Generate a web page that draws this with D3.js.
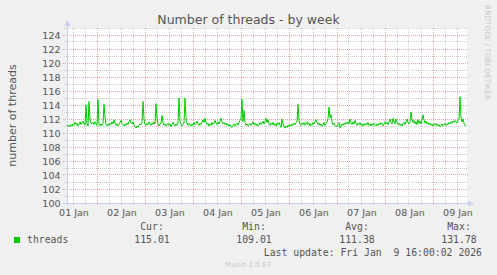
<!DOCTYPE html>
<html>
<head>
<meta charset="utf-8">
<script src="https://cdn.jsdelivr.net/npm/d3@7"></script>
<style>
  html, body { margin: 0; padding: 0; background: #f0f0f0; }
  svg { display: block; }
</style>
</head>
<body>
<div id="chart"></div>
<script>
const startTime = Date.UTC(2026, 0, 1, 9, 0, 0);
const stepMs = 30 * 60 * 1000;
const threads = [
  111.1, 111.0, 111.1, 110.9, 111.2, 111.0, 111.3, 111.1, 111.5, 111.2,
  111.4, 111.0, 111.3, 111.6, 111.2, 111.5, 111.7, 111.3, 111.1, 114.0,
  111.3, 111.0, 114.5, 112.0, 111.4, 111.3, 111.5, 111.2, 111.6, 111.3,
  111.1, 114.8, 111.2, 111.0, 111.3, 111.1, 111.4, 114.1, 112.3, 111.2,
  111.0, 111.3, 111.1, 111.4, 111.2, 111.6, 111.3, 111.9, 111.5, 111.1,
  111.3, 111.0, 111.2, 111.5, 111.8, 111.4, 111.2, 111.0, 111.3, 111.1,
  111.4, 111.2, 111.6, 111.9, 111.5, 111.3, 111.6, 111.2, 110.9, 110.7,
  111.0, 110.8, 111.1, 111.3, 111.2, 111.5, 114.5, 112.0, 111.3, 111.1,
  111.4, 111.2, 111.6, 111.3, 111.1, 111.4, 111.2, 111.6, 111.3, 114.2,
  112.1, 111.2, 111.0, 111.3, 111.4, 112.5, 111.5, 111.1, 111.3, 111.0,
  111.2, 111.4, 111.1, 111.3, 110.9, 111.2, 111.5, 111.2, 111.0, 111.3,
  111.1, 111.4, 115.0, 111.6, 111.2, 111.0, 111.3, 111.4, 115.0, 112.2,
  111.3, 111.1, 111.4, 111.2, 111.0, 111.3, 111.1, 111.5, 111.2, 111.4,
  111.7, 111.3, 111.1, 111.4, 111.2, 111.5, 111.9, 111.5, 112.1, 111.6,
  111.2, 111.4, 111.0, 111.3, 111.1, 111.5, 111.2, 111.4, 111.8, 111.4,
  111.2, 111.6, 111.3, 111.7, 112.1, 111.6, 111.3, 111.5, 111.2, 111.4,
  111.1, 111.3, 111.0, 111.2, 110.9, 110.8, 111.1, 111.3, 111.0, 111.2,
  111.4, 111.1, 111.5, 111.8, 112.0, 114.8, 111.6, 113.2, 111.5, 111.1,
  111.3, 111.0, 111.2, 111.4, 111.1, 111.3, 111.6, 111.2, 111.4, 111.1,
  111.3, 111.0, 111.2, 111.5, 111.2, 111.4, 111.7, 111.3, 111.6, 112.1,
  111.5, 111.9, 111.3, 111.1, 111.4, 111.2, 111.5, 111.1, 111.3, 111.0,
  111.4, 111.2, 111.5, 111.1, 110.8, 112.0, 111.3, 110.9, 110.7, 111.0,
  110.8, 111.1, 110.9, 111.2, 111.0, 111.3, 111.1, 111.4, 111.2, 111.5,
  111.6, 114.1, 111.8, 111.3, 111.1, 111.4, 111.2, 111.5, 111.1, 111.3,
  111.6, 111.2, 111.4, 111.0, 111.3, 111.1, 111.5, 111.3, 111.6, 111.9,
  111.5, 111.2, 111.4, 111.1, 111.3, 111.0, 111.2, 111.5, 111.1, 111.3,
  111.6, 112.0, 113.7, 112.2, 112.6, 111.6, 111.2, 111.4, 111.1, 110.9,
  111.0, 111.3, 111.5, 110.7, 111.0, 111.3, 111.1, 111.4, 111.2, 111.5,
  111.3, 111.6, 111.3, 112.0, 111.5, 111.2, 111.6, 111.3, 111.8, 111.4,
  111.1, 111.4, 111.2, 111.5, 111.1, 111.3, 111.0, 111.3, 111.1, 111.4,
  111.2, 111.5, 111.1, 111.3, 111.0, 111.3, 111.1, 111.4, 111.2, 111.0,
  111.3, 111.1, 111.4, 111.2, 111.5, 111.2, 111.0, 111.3, 111.6, 111.3,
  111.5, 111.2, 111.6, 112.0, 111.5, 111.3, 112.1, 111.6, 111.3, 112.0,
  111.5, 111.2, 111.4, 111.1, 111.3, 111.0, 111.3, 111.5, 111.2, 111.6,
  112.0, 111.5, 111.3, 111.6, 113.0, 112.0, 111.5, 111.8, 111.3, 111.6,
  111.2, 111.9, 111.4, 111.7, 111.3, 111.8, 112.6, 111.9, 111.4, 111.7,
  111.3, 111.5, 111.2, 111.4, 111.1, 111.3, 111.0, 111.2, 111.4, 111.1,
  111.3, 111.0, 111.2, 110.9, 111.1, 111.3, 111.0, 111.2, 111.4, 111.1,
  111.3, 111.2, 111.5, 111.3, 111.6, 111.4, 111.7, 111.5, 111.8, 111.6,
  111.4, 111.7, 112.0, 115.2, 112.2, 111.6, 112.0, 111.4, 111.1, 111.0
];

const yTickValues = [100, 102, 104, 106, 108, 110, 112, 114, 116, 118, 120, 122, 124];
const dayLabels = ['01 Jan', '02 Jan', '03 Jan', '04 Jan', '05 Jan', '06 Jan', '07 Jan', '08 Jan', '09 Jan'];
const legendHeads = ['Cur:', 'Min:', 'Avg:', 'Max:'];
const legendValues = ['115.01', '109.01', '111.38', '131.78'];
const seriesName = 'threads';
const lastUpdate = 'Last update: Fri Jan  9 16:00:02 2026';

const W = 497, H = 275;
const plot = {left: 67, top: 28, width: 400, height: 175};
const sans = 'DejaVu Sans, sans-serif';
const mono = 'DejaVu Sans Mono, monospace';
const fontColor = '#555';
const axisColor = '#c8cff2';
const gridMinor = '#cfcfcf';
const gridMajor = '#e6a3a3';

const svg = d3.select('#chart').append('svg')
    .attr('width', W)
    .attr('height', H);

svg.append('rect').attr('width', W).attr('height', H).attr('fill', '#f0f0f0');

const endTime = startTime + 400 * stepMs;
const x = d3.scaleUtc()
    .domain([startTime, endTime])
    .range([plot.left, plot.left + plot.width]);
const y = d3.scaleLinear()
    .domain([100, 125])
    .range([plot.top + plot.height, plot.top]);

svg.append('rect')
    .attr('x', plot.left).attr('y', plot.top)
    .attr('width', plot.width).attr('height', plot.height)
    .attr('fill', '#fff');

const grid = svg.append('g').attr('shape-rendering', 'crispEdges');
const crisp = v => Math.floor(v) + 0.5;

// minor grid: every unit, every 6 hours
const minorY = d3.range(101, 126, 2);
grid.selectAll('.minY').data(minorY).enter().append('line')
    .attr('x1', plot.left - 3).attr('x2', plot.left + plot.width + 1)
    .attr('y1', d => crisp(y(d))).attr('y2', d => crisp(y(d)))
    .attr('stroke', gridMinor).attr('stroke-dasharray', '1,1');

const sixHours = d3.utcHour.every(6).range(new Date(startTime), new Date(endTime))
    .filter(d => d.getUTCHours() !== 0);
grid.selectAll('.minX').data(sixHours).enter().append('line')
    .attr('x1', d => crisp(x(d))).attr('x2', d => crisp(x(d)))
    .attr('y1', plot.top).attr('y2', plot.top + plot.height + 2)
    .attr('stroke', gridMinor).attr('stroke-dasharray', '1,1');

// major grid: red dotted every 2 units and every midnight
grid.selectAll('.majY').data(yTickValues.filter(d => d > 100)).enter().append('line')
    .attr('x1', plot.left - 4).attr('x2', plot.left + plot.width + 1)
    .attr('y1', d => crisp(y(d))).attr('y2', d => crisp(y(d)))
    .attr('stroke', gridMajor).attr('stroke-dasharray', '1,1');

const midnights = d3.utcDay.range(new Date(startTime), new Date(endTime));
grid.selectAll('.majX').data(midnights).enter().append('line')
    .attr('x1', d => crisp(x(d))).attr('x2', d => crisp(x(d)))
    .attr('y1', plot.top).attr('y2', plot.top + plot.height + 3)
    .attr('stroke', gridMajor).attr('stroke-dasharray', '1,1');

// axes with arrows
const axes = svg.append('g');
axes.append('line')
    .attr('x1', plot.left - 4).attr('x2', plot.left + plot.width + 3)
    .attr('y1', crisp(y(100))).attr('y2', crisp(y(100)))
    .attr('stroke', axisColor).attr('shape-rendering', 'crispEdges');
axes.append('line')
    .attr('x1', plot.left + 0.5).attr('x2', plot.left + 0.5)
    .attr('y1', plot.top + plot.height + 3).attr('y2', plot.top - 4)
    .attr('stroke', axisColor).attr('shape-rendering', 'crispEdges');
const ax = plot.left + plot.width, ay = crisp(y(100));
axes.append('path')
    .attr('d', `M${ax + 1},${ay - 3}L${ax + 7},${ay}L${ax + 1},${ay + 3}Z`)
    .attr('fill', axisColor);
const tx = plot.left + 0.5, ty = plot.top;
axes.append('path')
    .attr('d', `M${tx - 3},${ty - 2}L${tx},${ty - 8}L${tx + 3},${ty - 2}Z`)
    .attr('fill', axisColor);

// y tick labels
svg.append('g').selectAll('text').data(yTickValues).enter().append('text')
    .attr('x', plot.left - 6.5)
    .attr('y', d => y(d) + 3.5)
    .attr('text-anchor', 'end')
    .attr('font-family', sans).attr('font-size', '9.5px').attr('fill', fontColor)
    .text(d => d);

// x tick labels, centred on noon of each day
const noons = midnights.map(d => d3.utcHour.offset(d, -12)).concat([d3.utcHour.offset(midnights[midnights.length - 1], 12)]);
svg.append('g').selectAll('text').data(dayLabels).enter().append('text')
    .attr('x', (d, i) => x(noons[i]) + 1)
    .attr('y', 216)
    .attr('text-anchor', 'middle')
    .attr('font-family', sans).attr('font-size', '9.5px').attr('fill', fontColor)
    .text(d => d);

// the series
const line = d3.line()
    .x((d, i) => x(startTime + i * stepMs))
    .y(d => y(d));
svg.append('path')
    .datum(threads)
    .attr('d', line)
    .attr('fill', 'none')
    .attr('stroke', '#00cc00')
    .attr('stroke-width', 1);

// titles
svg.append('text')
    .attr('x', 248.5).attr('y', 24)
    .attr('text-anchor', 'middle')
    .attr('font-family', sans).attr('font-size', '12.5px').attr('fill', fontColor)
    .text('Number of threads - by week');

svg.append('text')
    .attr('transform', 'translate(15.5,' + (plot.top + plot.height / 2) + ') rotate(-90)')
    .attr('text-anchor', 'middle')
    .attr('font-family', sans).attr('font-size', '11px').attr('fill', fontColor)
    .text('number of threads');

svg.append('text')
    .attr('transform', 'translate(485,5) rotate(90)')
    .attr('font-family', sans).attr('font-size', '7.4px').attr('fill', '#c8c8c8')
    .text('RRDTOOL / TOBI OETIKER');

// legend
svg.append('rect')
    .attr('x', 14).attr('y', 237).attr('width', 6).attr('height', 6)
    .attr('fill', '#00cc00');
svg.append('text')
    .attr('x', 27).attr('y', 243)
    .attr('font-family', mono).attr('font-size', '9.8px').attr('fill', fontColor)
    .text(seriesName);

const colX = [152, 254, 357, 459];
svg.append('g').selectAll('text').data(legendHeads).enter().append('text')
    .attr('x', (d, i) => colX[i]).attr('y', 230)
    .attr('text-anchor', 'middle')
    .attr('font-family', mono).attr('font-size', '9.8px').attr('fill', fontColor)
    .text(d => d);
svg.append('g').selectAll('text').data(legendValues).enter().append('text')
    .attr('x', (d, i) => colX[i]).attr('y', 243)
    .attr('text-anchor', 'middle')
    .attr('font-family', mono).attr('font-size', '9.8px').attr('fill', fontColor)
    .text(d => d);

svg.append('text')
    .attr('x', 482).attr('y', 255.5)
    .attr('text-anchor', 'end')
    .attr('font-family', mono).attr('font-size', '9.8px').attr('fill', fontColor)
    .attr('xml:space', 'preserve').style('white-space', 'pre')
    .text(lastUpdate);

svg.append('text')
    .attr('x', 248).attr('y', 266.5)
    .attr('text-anchor', 'middle')
    .attr('font-family', sans).attr('font-size', '7px').attr('fill', '#c8c8c8')
    .text('Munin 2.0.67');
</script>
</body>
</html>
